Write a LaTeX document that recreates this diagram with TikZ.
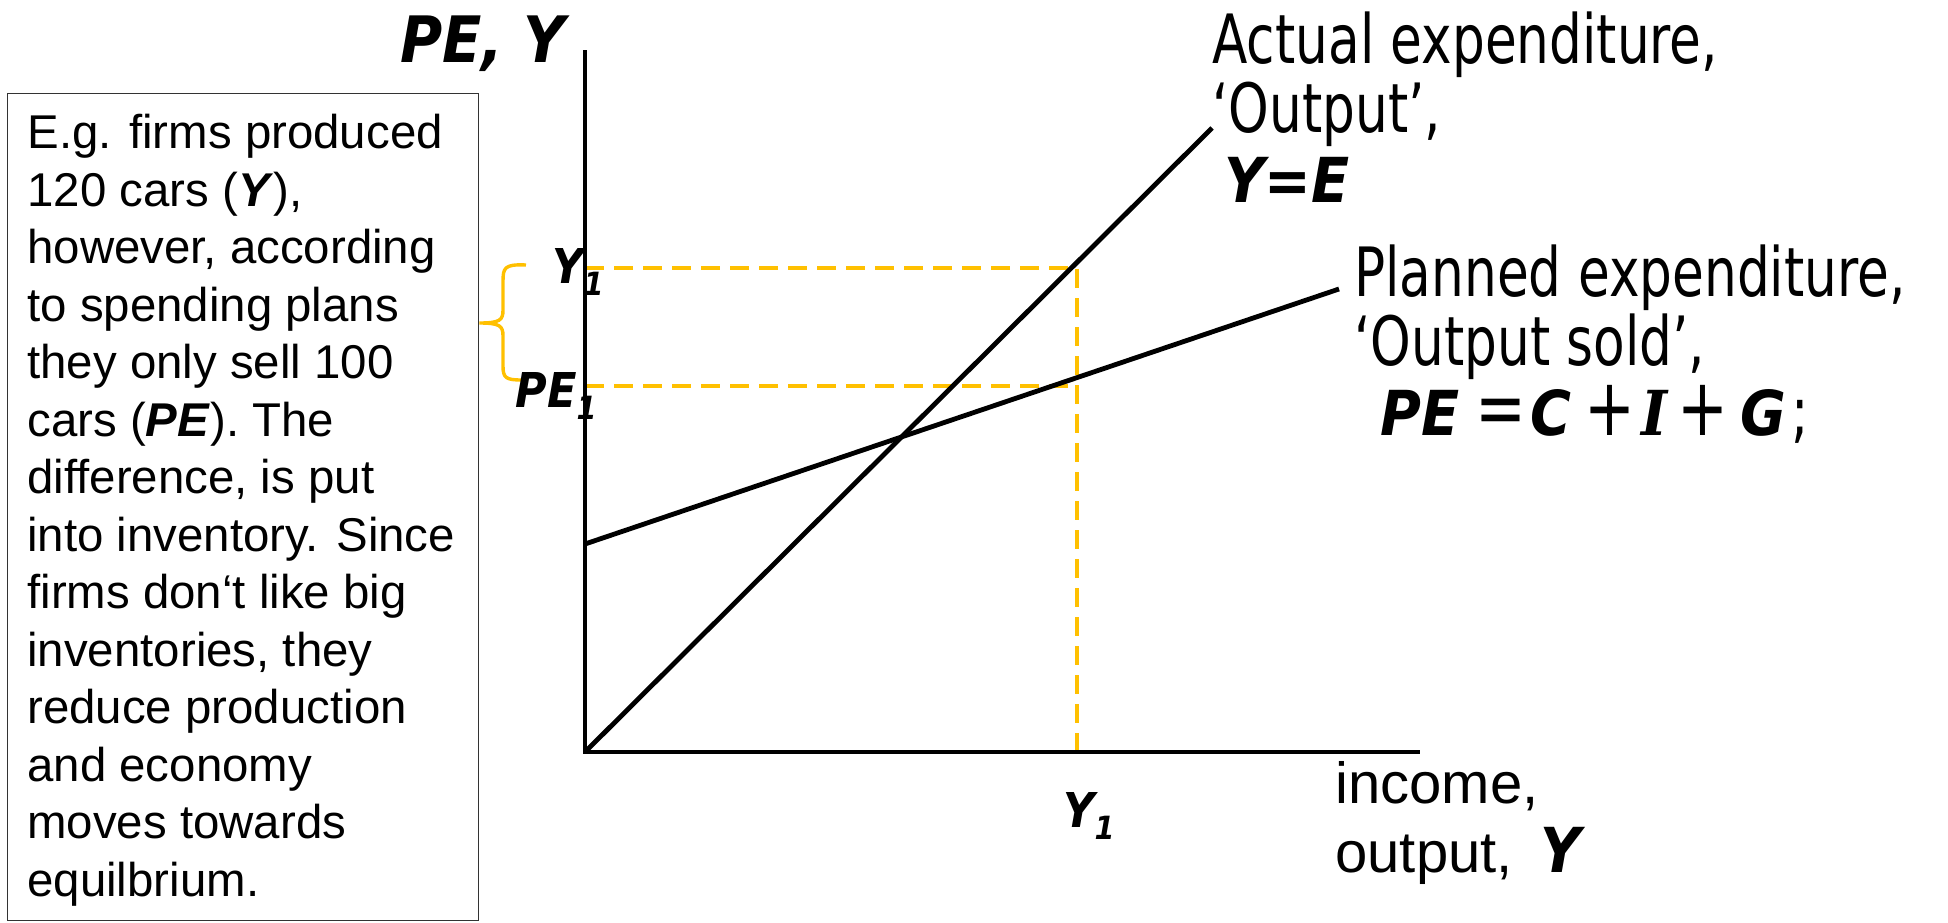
\documentclass[tikz,border=0pt]{standalone}
\usepackage{fontspec}
\setmainfont{Liberation Sans}
\newfontfamily\tahfont[FakeStretch=0.76]{DejaVu Sans}
\newfontfamily\tahbfont[FakeStretch=0.9]{DejaVu Sans}
\newfontfamily\serbfont[FakeStretch=0.9]{DejaVu Serif}
\newcommand{\bival}[1]{{\tahbfont\bfseries\itshape #1}}
\newcommand{\subuno}{\raisebox{-6pt}{\fontsize{16}{16}\selectfont 1}}
\newcommand{\opr}[1]{{\fontsize{40}{34.75}\selectfont #1}}
\definecolor{oro}{RGB}{255,192,0}

\begin{document}
\begin{tikzpicture}[x=0.5pt,y=-0.5pt,
    curva/.style={line width=2.4pt},
    eje/.style={line width=1.7pt},
    guia/.style={oro, line width=1.7pt, dash pattern=on 9.5pt off 5pt},
    rotulo/.style={inner sep=0pt, anchor=north west, align=left},
    subrot/.style={inner sep=0pt, anchor=base west,
      font=\tahbfont\bfseries\itshape\fontsize{24}{24}\selectfont},
  ]
  \useasboundingbox (0,0) rectangle (1948,922);

  % Parámetros (en píxeles de la figura)
  \def\xo{585}   % origen
  \def\yo{752}
  \def\xu{1077}  % Y_1 en el eje horizontal
  \def\yu{268}   % Y_1 en el eje vertical
  \def\ype{386}  % PE_1
  \def\tam{\fontsize{31}{34.75}\selectfont}

  % Puntos de referencia
  \coordinate (O) at (\xo,\yo);
  \coordinate (ytop) at (\xo,50);
  \coordinate (xend) at (1420,\yo);
  \coordinate (actfin) at (1212,128);
  \coordinate (planini) at (\xo,544);
  \coordinate (planfin) at (1339,289);
  \coordinate (A) at (\xu,\yu);
  \coordinate (B) at (\xu,\ype);
  \coordinate (Ay) at (\xo,\yu);
  \coordinate (By) at (\xo,\ype);
  \coordinate (Ax) at (\xu,\yo);

  % Líneas guía (discontinuas)
  \draw[guia] (Ay) -- (A) -- (Ax);
  \draw[guia] (By) -- (B);

  % Ejes
  \draw[eje] (ytop) -- (O) -- (xend);

  % Gasto efectivo Y=E y gasto planeado PE
  \draw[curva] (O) -- (actfin);
  \draw[curva] (planini) -- (planfin);

  % Cuadro con el ejemplo
  \node (nota) [draw=black!80, line width=0.7pt, inner sep=0pt,
    minimum width=235.5pt, minimum height=413.5pt, anchor=north west] at (7,93) {};
  \node (notatxt) [rotulo, font=\fontsize{23.7}{28.75}\selectfont] at (27,114)
    {E.g. firms produced\\
     120 cars (\textbf{\textit{Y}}),\\
     however, according\\
     to spending plans\\
     they only sell 100\\
     cars (\textbf{\textit{PE}}). The\\
     difference, is put\\
     into inventory. Since\\
     firms don‘t like big\\
     inventories, they\\
     reduce production\\
     and economy\\
     moves towards\\
     equilbrium.};

  % Llave entre Y_1 y PE_1
  \coordinate (punta) at (nota.east |- 0,323);
  \draw[oro, line width=1.7pt] (526,265) .. controls (504,264) and (503,268) .. (503,282)
    -- (503,310) .. controls (503,320) and (500,323) .. (punta)
    .. controls (500,323) and (503,326) .. (503,336)
    -- (503,366) .. controls (503,378) and (506,380) .. (522,380);

  % Rótulos de los ejes
  \node (ejey) [inner sep=0pt, anchor=base west,
    font=\tahbfont\bfseries\itshape\fontsize{32}{32}\selectfont] at (400,62) {PE, Y};
  \node (ejex) [rotulo, font=\fontsize{29}{34.5}\selectfont] at (1335,761)
    {income,\\output,\hspace{14pt}\bival{\fontsize{31}{34.5}\selectfont Y}};

  % Y_1 y PE_1
  \node (yuno) [subrot] at (552,283) {Y\subuno};
  \node (peuno) [subrot] at (515,407) {PE\subuno};
  \node (yunox) [subrot] at (1063,827) {Y\subuno};

  % Rótulos de las rectas
  \node (actual) [rotulo, font=\tahfont\fontsize{34}{34.75}\selectfont] at (1212,11)
    {Actual expenditure,\\‘Output’,\\\hspace{6pt}\bival{\tam Y=E}};
  \node (planeado) [rotulo, font=\tahfont\fontsize{34}{34.75}\selectfont] at (1354,244)
    {Planned expenditure,\\‘Output sold’,\\\hspace{13pt}\bival{\tam PE}
     \opr{=}\hspace{1.8pt}\bival{\tam C}\hspace{6.5pt}\opr{+}\hspace{3.2pt}{\serbfont\bfseries\itshape\tam I}\hspace{5pt}\opr{+}\hspace{6pt}\bival{\tam G}\hspace{2.5pt};};
\end{tikzpicture}
\end{document}
